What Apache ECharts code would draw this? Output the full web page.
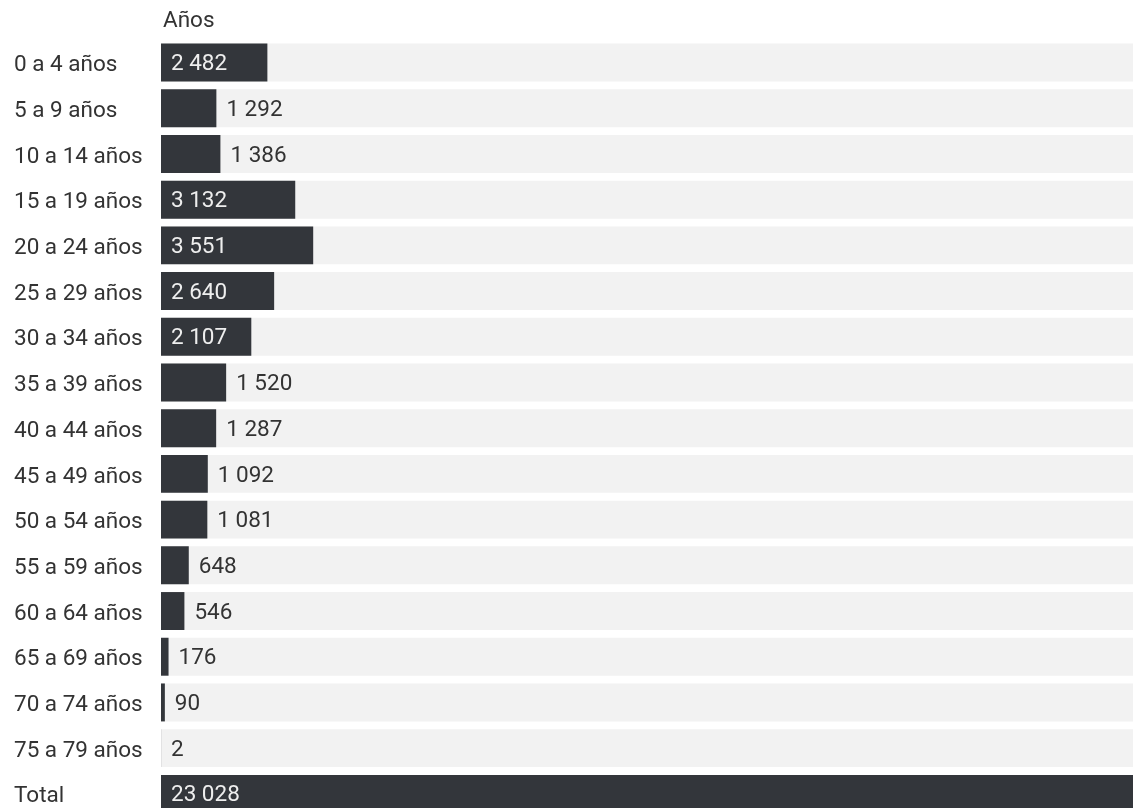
<!DOCTYPE html>
<html><head><meta charset="utf-8">
<script src="https://cdn.jsdelivr.net/npm/echarts@6/dist/echarts.min.js"></script>
<style>html,body{margin:0;padding:0;background:#fff;}#c{width:1133px;height:808px;}</style>
</head><body><div id="c"></div>
<script>
const categories = ["0 a 4 años","5 a 9 años","10 a 14 años","15 a 19 años","20 a 24 años","25 a 29 años","30 a 34 años","35 a 39 años","40 a 44 años","45 a 49 años","50 a 54 años","55 a 59 años","60 a 64 años","65 a 69 años","70 a 74 años","75 a 79 años","Total"];
const values = [2482,1292,1386,3132,3551,2640,2107,1520,1287,1092,1081,648,546,176,90,2,23028];
const headerText = "Años";

const fmt = v => String(v).replace(/\B(?=(\d{3})+(?!\d))/g, ' ');
const maxV = Math.max(...values);
const FS = 22.5;
const data = values.map(v => {
  const inside = v / maxV > 0.08;
  const col = inside ? '#eeeeee' : '#333333';
  return {
    value: v,
    label: {
      position: inside ? 'insideLeft' : 'right', distance: 10,
      rich: {t: {color: col, fontFamily: 'Roboto', fontSize: FS, padding: [4, 0, 0, 0]}}
    }
  };
});

const chart = echarts.init(document.getElementById('c'), null, {renderer: 'canvas'});
chart.setOption({
  animation: false,
  title: {text: headerText, left: 163, top: 10, padding: 0, textStyle: {fontFamily: 'Roboto', fontSize: FS, fontWeight: 'normal', color: '#333333'}},
  grid: {left: 161, top: 39.7, width: 987, height: 777, containLabel: false, outerBoundsMode: 'none'},
  xAxis: {type: 'value', min: 0, max: maxV, show: false},
  yAxis: {
    type: 'category', data: categories, inverse: true,
    axisLine: {show: false}, axisTick: {show: false}, splitLine: {show: false},
    axisLabel: {
      align: 'left', margin: 147, fontFamily: 'Roboto', fontSize: FS, color: '#333333',
      formatter: v => '{t|' + v + '}',
      rich: {t: {fontFamily: 'Roboto', fontSize: FS, color: '#333333', padding: [6, 0, 0, 0]}}
    }
  },
  series: [{
    type: 'bar', data: data, barCategoryGap: '17%',
    itemStyle: {color: '#33363b'},
    showBackground: true,
    backgroundStyle: {color: '#f2f2f2'},
    label: {show: true, fontFamily: 'Roboto', fontSize: FS, formatter: p => '{t|' + fmt(p.value) + '}'}
  }]
});
</script></body></html>
